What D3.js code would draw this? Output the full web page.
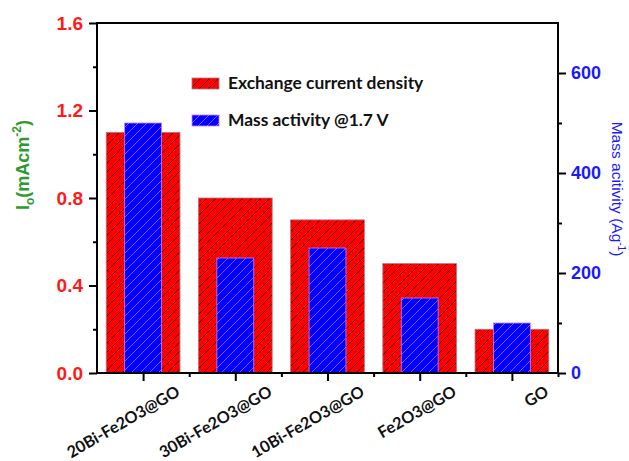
<!DOCTYPE html>
<html>
<head>
<meta charset="utf-8">
<script src="https://cdn.jsdelivr.net/npm/d3@7"></script>
<style>
  html, body { margin: 0; padding: 0; background: #fff; }
  svg { display: block; }
</style>
</head>
<body>
<svg id="chart" width="629" height="461"></svg>
<script>
// Samples on the category axis
const categories = ["20Bi-Fe2O3@GO", "30Bi-Fe2O3@GO", "10Bi-Fe2O3@GO", "Fe2O3@GO", "GO"];
// Exchange current density, I0 (mA cm^-2), left axis
const exchangeCurrent = [1.1, 0.8, 0.7, 0.5, 0.2];
// Mass activity at 1.7 V (A g^-1), right axis
const massActivity = [500, 230, 250, 150, 100];
// Tick values
const leftTicks = [0.0, 0.4, 0.8, 1.2, 1.6];
const leftMinorTicks = [0.2, 0.6, 1.0, 1.4];
const rightTicks = [0, 200, 400, 600];
const rightMinorTicks = [100, 300, 500];
const seriesNames = ["Exchange current density", "Mass activity @1.7 V"];

const svg = d3.select("#chart");
const plot = { left: 97, right: 558, top: 23, bottom: 373 };

const x = d3.scaleLinear().domain([0.5, categories.length + 0.5]).range([plot.left, plot.right]);
const yL = d3.scaleLinear().domain([0, 1.6]).range([plot.bottom, plot.top]);
const yR = d3.scaleLinear().domain([0, 700]).range([plot.bottom, plot.top]);
const step = x(2) - x(1);

// Hatch fills
const defs = svg.append("defs");
function hatch(id, bg, line) {
  const p = defs.append("pattern").attr("id", id)
    .attr("patternUnits", "userSpaceOnUse").attr("width", 9).attr("height", 9);
  p.append("rect").attr("width", 9).attr("height", 9).attr("fill", bg);
  p.append("path").attr("d", "M-1,10 L10,-1 M-2,2 L2,-2 M7,11 L11,7")
    .attr("stroke", line).attr("stroke-width", 1);
}
hatch("hatchRed", "#ff0000", "#5a0808");
hatch("hatchBlue", "#0000ff", "#8f4dff");

// Bars: wide red (left axis) behind narrow blue (right axis)
svg.append("g").selectAll("rect").data(exchangeCurrent).join("rect")
  .attr("x", (d, i) => x(i + 1) - step * 0.4)
  .attr("width", step * 0.8)
  .attr("y", d => yL(d))
  .attr("height", d => yL(0) - yL(d))
  .attr("fill", "url(#hatchRed)")
  .attr("stroke", "#a08080").attr("stroke-width", 0.8);

svg.append("g").selectAll("rect").data(massActivity).join("rect")
  .attr("x", (d, i) => x(i + 1) - step * 0.2)
  .attr("width", step * 0.4)
  .attr("y", d => yR(d))
  .attr("height", d => yR(0) - yR(d))
  .attr("fill", "url(#hatchBlue)")
  .attr("stroke", "#c27dff").attr("stroke-width", 0.8);

// Frame
svg.append("rect")
  .attr("x", plot.left).attr("y", plot.top)
  .attr("width", plot.right - plot.left).attr("height", plot.bottom - plot.top)
  .attr("fill", "none").attr("stroke", "#000").attr("stroke-width", 2);

// Axes
function styleAxis(g, color, size) {
  g.select(".domain").remove();
  g.selectAll(".tick line").attr("stroke", "#000").attr("stroke-width", 2);
  g.selectAll(".tick text").attr("fill", color)
    .attr("font-family", "Liberation Sans, Arial, sans-serif")
    .attr("font-weight", "bold").attr("font-size", size);
}

const gL = svg.append("g").attr("transform", `translate(${plot.left},0)`)
  .call(d3.axisLeft(yL).tickValues(leftTicks).tickFormat(d3.format(".1f")).tickSize(8).tickPadding(6));
styleAxis(gL, "#ff1a1a", 19);
svg.append("g").attr("transform", `translate(${plot.left},0)`)
  .call(d3.axisLeft(yL).tickValues(leftMinorTicks).tickFormat("").tickSize(4))
  .call(g => styleAxis(g, "none", 0));

const gR = svg.append("g").attr("transform", `translate(${plot.right},0)`)
  .call(d3.axisRight(yR).tickValues(rightTicks).tickSize(8).tickPadding(5));
styleAxis(gR, "#1a1aff", 18);
svg.append("g").attr("transform", `translate(${plot.right},0)`)
  .call(d3.axisRight(yR).tickValues(rightMinorTicks).tickFormat("").tickSize(4))
  .call(g => styleAxis(g, "none", 0));

const gB = svg.append("g").attr("transform", `translate(0,${plot.bottom})`)
  .call(d3.axisBottom(x).tickValues(d3.range(1, categories.length + 1)).tickFormat("").tickSize(8));
styleAxis(gB, "none", 0);
svg.append("g").attr("transform", `translate(0,${plot.bottom})`)
  .call(d3.axisBottom(x).tickValues(d3.range(1.5, categories.length + 0.6, 1)).tickFormat("").tickSize(4))
  .call(g => styleAxis(g, "none", 0));

// Slanted category labels
svg.append("g").selectAll("text").data(categories).join("text")
  .attr("transform", (d, i) => `translate(${x(i + 1) + 38},395) rotate(-30)`)
  .attr("text-anchor", "end")
  .attr("font-family", "Lato, sans-serif")
  .attr("font-weight", "bold").attr("font-size", 16.2)
  .attr("fill", "#111")
  .text(d => d);

// Left axis title: I0 (mA cm^-2)
const tL = svg.append("text")
  .attr("transform", "translate(29,165) rotate(-90)")
  .attr("text-anchor", "middle")
  .attr("font-family", "Liberation Sans, Arial, sans-serif")
  .attr("font-weight", "bold").attr("font-size", 18)
  .attr("fill", "#2e9a2e");
tL.append("tspan").text("I");
tL.append("tspan").attr("font-size", 12).attr("dy", 5).text("o");
tL.append("tspan").attr("dy", -5).text("(mAcm");
tL.append("tspan").attr("font-size", 12).attr("dy", -8).text("-2");
tL.append("tspan").attr("dy", 8).text(")");

// Right axis title: Mass acitivity (Ag^-1)
const tR = svg.append("text")
  .attr("transform", "translate(612,189) rotate(90)")
  .attr("text-anchor", "middle")
  .attr("font-family", "Liberation Sans, Arial, sans-serif")
  .attr("font-size", 15.5)
  .attr("fill", "#1a1aff");
tR.append("tspan").text("Mass acitivity (Ag");
tR.append("tspan").attr("font-size", 10).attr("dy", -6).text("-1");
tR.append("tspan").attr("dy", 6).text(")");

// Legend
const legend = svg.append("g");
const legendFills = ["url(#hatchRed)", "url(#hatchBlue)"];
const legendStrokes = ["#a08080", "#c27dff"];
const legendY = [78, 115];
seriesNames.forEach((name, i) => {
  legend.append("rect")
    .attr("x", 192).attr("y", legendY[i]).attr("width", 27).attr("height", 11)
    .attr("fill", legendFills[i]).attr("stroke", legendStrokes[i]).attr("stroke-width", 0.8);
  legend.append("text")
    .attr("x", 228).attr("y", legendY[i] + 11)
    .attr("font-family", "Lato, sans-serif")
    .attr("font-weight", "bold").attr("font-size", 17.4)
    .attr("fill", "#111")
    .text(name);
});
</script>
</body>
</html>
